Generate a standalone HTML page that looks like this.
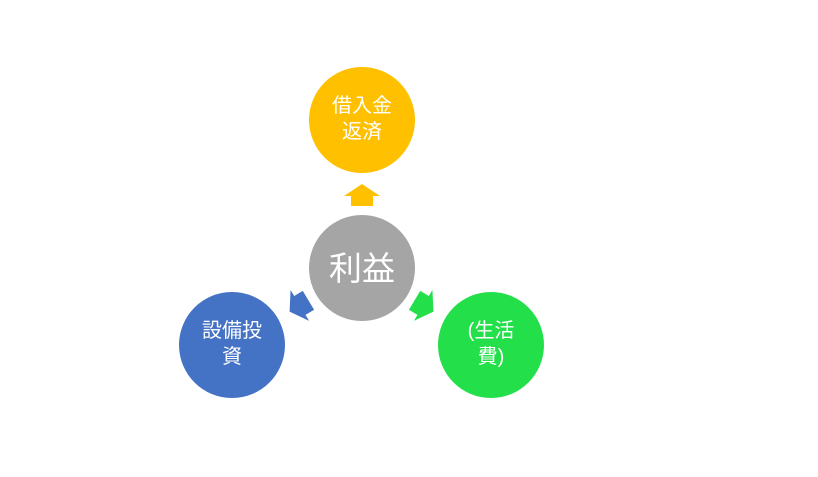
<!DOCTYPE html>
<html><head><meta charset="utf-8"><style>
body{margin:0;background:#fff;}
svg text{font-family:"Liberation Sans","Noto Sans CJK JP",sans-serif;fill:#fff;text-anchor:middle;}
</style></head><body>
<svg width="818" height="472" viewBox="0 0 818 472">
<circle cx="362" cy="120" r="53" fill="#FFC000"/>
<circle cx="362" cy="268" r="53" fill="#A5A5A5"/>
<circle cx="232" cy="345" r="53" fill="#4472C4"/>
<circle cx="491" cy="345" r="53" fill="#23E04A"/>
<g transform="translate(362,195)"><polygon points="0,-11 18,1 11,1 11,11 -11,11 -11,1 -18,1" fill="#FFC000"/></g>
<g transform="translate(299,306) rotate(239)"><polygon points="0,-11 18,1 11,1 11,11 -11,11 -11,1 -18,1" fill="#4472C4"/></g>
<g transform="translate(424,306) rotate(121)"><polygon points="0,-11 18,1 11,1 11,11 -11,11 -11,1 -18,1" fill="#23E04A"/></g>
<text x="362" y="112" font-size="20">借入金</text>
<text x="362" y="138" font-size="20">返済</text>
<text x="362" y="280" font-size="33">利益</text>
<text x="232" y="337" font-size="20">設備投</text>
<text x="232" y="363" font-size="20">資</text>
<text x="491" y="337" font-size="20">(生活</text>
<text x="491" y="363" font-size="20">費)</text>
</svg>
</body></html>
